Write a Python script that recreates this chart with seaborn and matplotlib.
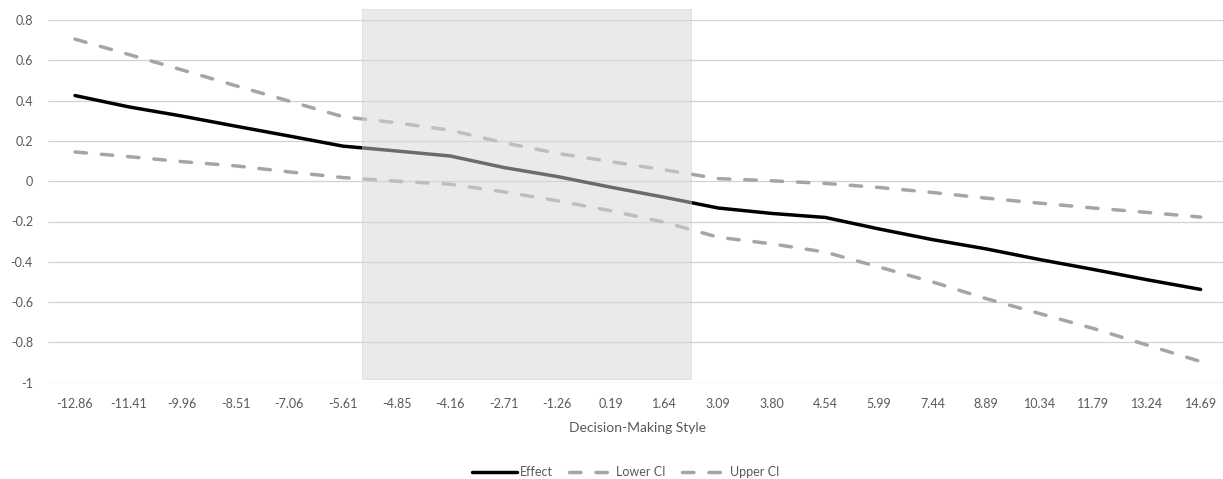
import matplotlib
matplotlib.use("Agg")
import matplotlib.pyplot as plt
import seaborn as sns
import numpy as np
import pandas as pd
from matplotlib.patches import Rectangle

# ---- data ----
x_labels = ["-12.86", "-11.41", "-9.96", "-8.51", "-7.06", "-5.61", "-4.85", "-4.16",
            "-2.71", "-1.26", "0.19", "1.64", "3.09", "3.80", "4.54", "5.99", "7.44",
            "8.89", "10.34", "11.79", "13.24", "14.69"]
effect = [0.425, 0.369, 0.323, 0.273, 0.224, 0.174, 0.150, 0.125, 0.068, 0.023, -0.030,
          -0.080, -0.133, -0.160, -0.180, -0.237, -0.290, -0.336, -0.389, -0.438, -0.489, -0.537]
lower_ci = [0.145, 0.122, 0.097, 0.076, 0.046, 0.018, 0.000, -0.015, -0.053, -0.097, -0.147,
            -0.204, -0.278, -0.311, -0.352, -0.426, -0.500, -0.583, -0.657, -0.731, -0.813, -0.895]
upper_ci = [0.705, 0.629, 0.552, 0.474, 0.397, 0.320, 0.290, 0.253, 0.191, 0.138, 0.097,
            0.056, 0.013, 0.002, -0.011, -0.031, -0.056, -0.084, -0.109, -0.133, -0.155, -0.178]
y_ticks = [-1, -0.8, -0.6, -0.4, -0.2, 0, 0.2, 0.4, 0.6, 0.8]
y_tick_labels = ["-1", "-0.8", "-0.6", "-0.4", "-0.2", "0", "0.2", "0.4", "0.6", "0.8"]
region_start, region_end = 5.35, 11.49      # shaded region (category index units)
region_low, region_high = -0.982, 0.855

sns.set_theme(style="white")
plt.rcParams["font.family"] = ["Lato", "DejaVu Sans"]

W, H = 1223, 479
fig = plt.figure(figsize=(W / 100, H / 100), dpi=100)
left_px, right_px = 48.2, 1227.4
top_px, bottom_px = 20.0, 382.7
ax = fig.add_axes([left_px / W, 1 - bottom_px / H, (right_px - left_px) / W, (bottom_px - top_px) / H])

idx = np.arange(len(x_labels))
df = pd.DataFrame({"idx": idx, "Effect": effect, "Lower CI": lower_ci, "Upper CI": upper_ci})

lw = 2.5
sns.lineplot(data=df, x="idx", y="Effect", color="black", linewidth=lw, label="Effect",
             ax=ax, solid_capstyle="round", zorder=3)
sns.lineplot(data=df, x="idx", y="Lower CI", color="#a5a5a5", linewidth=lw, label="Lower CI",
             ax=ax, linestyle=(0, (3.3, 4.3)), dash_capstyle="round", zorder=3)
sns.lineplot(data=df, x="idx", y="Upper CI", color="#a5a5a5", linewidth=lw, label="Upper CI",
             ax=ax, linestyle=(0, (3.3, 4.3)), dash_capstyle="round", zorder=3)

ax.add_patch(Rectangle((region_start, region_low), region_end - region_start,
                       region_high - region_low, transform=ax.transData, clip_on=False,
                       zorder=5, facecolor="#d7d7d7", alpha=0.5, edgecolor="#c8c8c8",
                       linewidth=0.6))

ax.set_xlim(-0.5, len(x_labels) - 0.5)
ax.set_ylim(-1, 0.8)
ax.set_xticks(idx)
ax.set_xticklabels(x_labels)
ax.set_yticks(y_ticks)
ax.set_yticklabels(y_tick_labels)
ax.yaxis.grid(True, color="#d2d2d2", linewidth=0.9)
ax.xaxis.grid(False)
for s in ax.spines.values():
    s.set_visible(False)
ax.tick_params(axis="both", length=0, colors="#595959", labelsize=9)
ax.tick_params(axis="x", pad=11)
ax.tick_params(axis="y", pad=11)
ax.set_xlabel("Decision-Making Style", color="#595959", fontsize=10, labelpad=9)
ax.set_ylabel("")

handles, labels = ax.get_legend_handles_labels()
if ax.get_legend() is not None:
    ax.get_legend().remove()
fig.legend(handles, labels, loc="center", bbox_to_anchor=(625.5 / W, 0.014), ncol=3,
           frameon=False, fontsize=9, handlelength=3.6, handletextpad=0.2,
           columnspacing=1.3, labelcolor="#595959")

fig.savefig("out.png", dpi=100)
